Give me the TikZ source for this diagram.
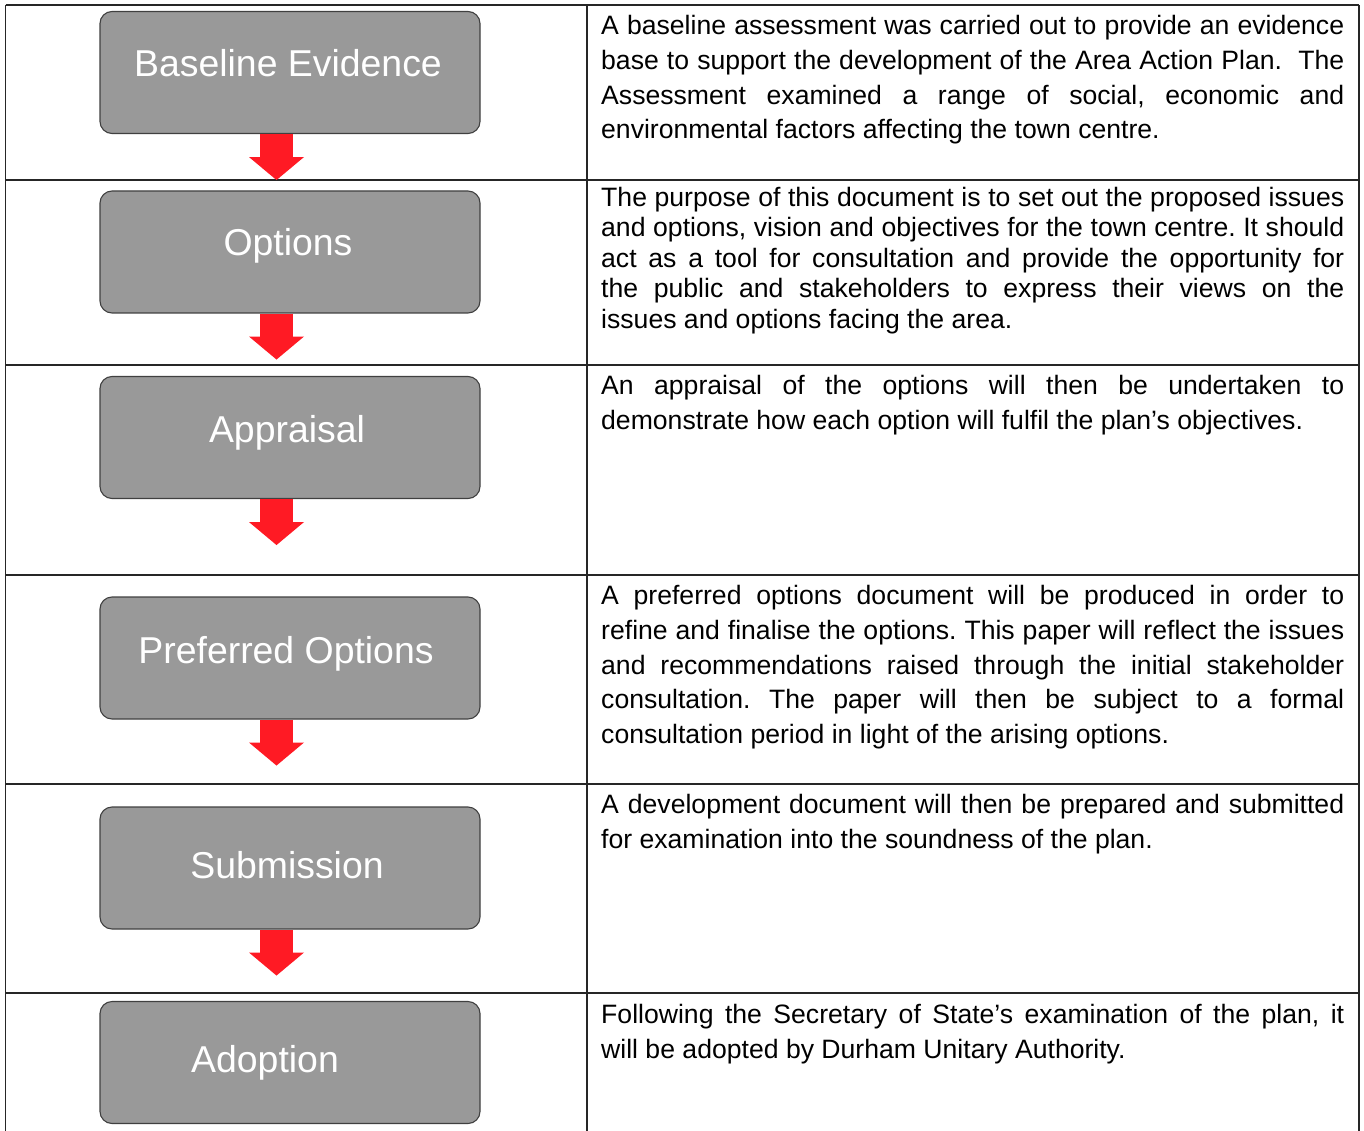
\documentclass[tikz,border=0pt]{standalone}
\usepackage{fontspec}
\setmainfont{Liberation Sans}
\usetikzlibrary{arrows.meta}
\definecolor{boxgray}{RGB}{153,153,153}
\definecolor{arrowred}{RGB}{255,26,36}
\frenchspacing
\begin{document}
\begin{tikzpicture}[x=1pt,y=-1pt,
  stagebox/.style={draw=black!75,line width=1.1pt,fill=boxgray,rounded corners=12pt,minimum width=380pt,minimum height=122pt,inner sep=0pt},
  stagelabel/.style={text=white,font=\fontsize{37.4}{42}\selectfont,inner sep=0pt,anchor=base},
  notes/.style={anchor=north west,inner sep=0pt,text width=743pt,align=justify,font=\fontsize{26.6}{34.7}\selectfont},
  flow/.style={draw=arrowred,line width=33pt,-{Triangle[length=23pt,width=55pt,line width=0pt]}}]
\useasboundingbox (0,0) rectangle (1364,1131);
% table grid
\foreach \y in {5,180,365,575,784,993}
  \draw[line width=1.3pt,black!85] (5.5,\y) -- (1359,\y);
\foreach \x in {5.5,587,1359}
  \draw[line width=1.3pt,black!85] (\x,5) -- (\x,1131);
% stages
\foreach \i/\y/\dx/\dy/\lab in {1/72.5/-2/4.5/Baseline Evidence,2/252/-2/4/Options,3/437.5/-3/4.5/Appraisal,4/658/-4/5/Preferred Options,5/868/-3/10/Submission,6/1062.5/-25/10/Adoption}{
  \node[stagebox] (b\i) at (290,\y) {};
  \node[stagelabel] (l\i) at ([xshift=\dx pt,yshift=-\dy pt]b\i.center) {\lab};
}
% red arrows
\foreach \i in {1,...,5}{
  \coordinate (e\i) at ([xshift=-13.5pt,yshift=-46pt]b\i.south);
  \draw[flow] (b\i.south -| e\i) -- (e\i);
}
% descriptions
\node[notes] (d1) at (601,15.2) {A baseline assessment was carried out to provide an evidence\linebreak
  base to support the development of the Area Action Plan.\ \ The\linebreak
  Assessment examined a range of social, economic and\linebreak
  environmental factors affecting the town centre.};
\node[notes,font=\fontsize{26.6}{30.6}\selectfont] (d2) at (601,186.7) {The purpose of this document is to set out the proposed issues\linebreak
  and options, vision and objectives for the town centre. It should\linebreak
  act as a tool for consultation and provide the opportunity for\linebreak
  the public and stakeholders to express their views on the\linebreak
  issues and options facing the area.};
\node[notes] (d3) at (601,375.2) {An appraisal of the options will then be undertaken to\linebreak
  demonstrate how each option will fulfil the plan’s objectives.};
\node[notes] (d4) at (601,585.2) {A preferred options document will be produced in order to\linebreak
  refine and finalise the options. This paper will reflect the issues\linebreak
  and recommendations raised through the initial stakeholder\linebreak
  consultation. The paper will then be subject to a formal\linebreak
  consultation period in light of the arising options.};
\node[notes] (d5) at (601,794.2) {A development document will then be prepared and submitted\linebreak
  for examination into the soundness of the plan.};
\node[notes] (d6) at (601,1004.2) {Following the Secretary of State’s examination of the plan, it\linebreak
  will be adopted by Durham Unitary Authority.};
\end{tikzpicture}
\end{document}
